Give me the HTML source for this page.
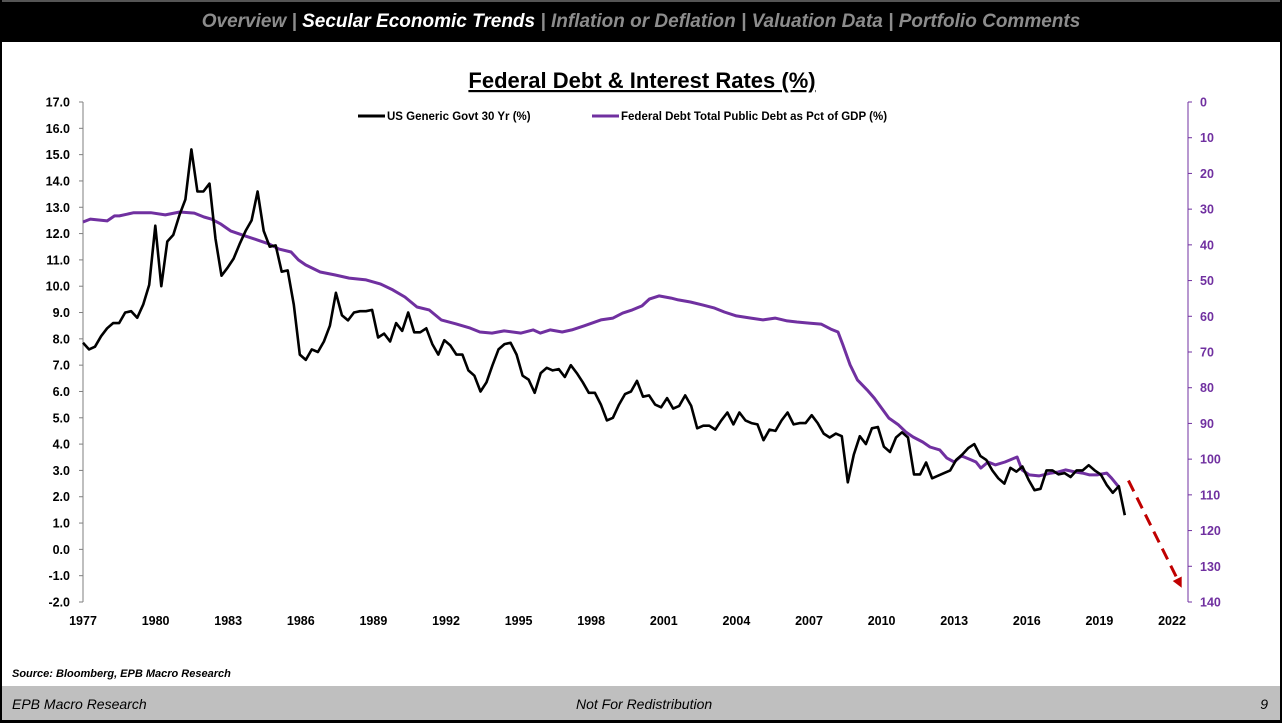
<!DOCTYPE html>
<html><head><meta charset="utf-8">
<style>
body{margin:0;width:1282px;height:723px;overflow:hidden;background:#fff;font-family:"Liberation Sans",sans-serif;}
#hdr{position:absolute;left:0;top:0;width:1282px;height:42px;background:#000;border-top:2px solid #555;box-sizing:border-box;text-align:center;line-height:40px;font-style:italic;font-weight:bold;font-size:19px;color:#8c8c8c;white-space:nowrap}
#hdr .on{color:#fff}
#ftr{position:absolute;left:0;top:686px;width:1282px;height:37px;background:#bfbfbf;border-bottom:3px solid #000;box-sizing:border-box;font-style:italic;font-size:14px;color:#000}
#side{position:absolute;left:0;top:0;width:1282px;height:723px;border-left:2px solid #000;border-right:2px solid #000;box-sizing:border-box;pointer-events:none}
</style></head><body>
<div id="hdr"><span>Overview</span> | <span class="on">Secular Economic Trends</span> | <span>Inflation or Deflation</span> | <span>Valuation Data</span> | <span>Portfolio Comments</span></div>
<svg id="chart" width="1282" height="723" style="position:absolute;left:0;top:0">
<text x="642" y="88" text-anchor="middle" font-size="22" font-weight="bold" text-decoration="underline">Federal Debt &amp; Interest Rates (%)</text>
<g font-size="11.5" font-weight="bold">
<line x1="358" y1="116" x2="385" y2="116" stroke="#000" stroke-width="3"/>
<text x="387" y="120">US Generic Govt 30 Yr (%)</text>
<line x1="592" y1="116" x2="619" y2="116" stroke="#7030a0" stroke-width="3"/>
<text x="621" y="120">Federal Debt Total Public Debt as Pct of GDP (%)</text>
</g>
<g id="axes"></g>
<g id="series"></g>
<text x="12" y="677" font-size="11" font-weight="bold" font-style="italic">Source: Bloomberg, EPB Macro Research</text>
</svg>
<div id="ftr">
<span style="position:absolute;left:12px;top:10px">EPB Macro Research</span>
<span style="position:absolute;left:576px;top:10px">Not For Redistribution</span>
<span style="position:absolute;right:14px;top:10px">9</span>
</div>
<div id="side"></div>
<script>
const yieldStart = 1977.0, yieldEnd = 2020.05;
const yieldValues = [7.85,7.6,7.7,8.1,8.4,8.6,8.6,9.0,9.05,8.8,9.3,10.05,12.3,10.0,11.7,11.95,12.7,13.3,15.2,13.6,13.6,13.9,11.8,10.4,10.7,11.05,11.6,12.1,12.5,13.6,12.1,11.5,11.55,10.55,10.6,9.3,7.4,7.2,7.6,7.5,7.9,8.5,9.75,8.9,8.7,9.0,9.05,9.05,9.1,8.05,8.2,7.9,8.6,8.3,9.0,8.25,8.25,8.4,7.8,7.4,7.95,7.75,7.4,7.4,6.8,6.6,6.0,6.35,7.0,7.6,7.8,7.85,7.4,6.6,6.45,5.95,6.7,6.9,6.8,6.85,6.55,7.0,6.7,6.35,5.95,5.95,5.5,4.9,5.0,5.5,5.9,6.0,6.4,5.8,5.85,5.5,5.4,5.75,5.35,5.45,5.85,5.45,4.6,4.7,4.7,4.55,4.9,5.2,4.75,5.2,4.9,4.8,4.75,4.15,4.55,4.5,4.9,5.2,4.75,4.8,4.8,5.1,4.8,4.4,4.25,4.4,4.3,2.55,3.6,4.3,4.0,4.6,4.65,3.9,3.7,4.25,4.45,4.25,2.85,2.85,3.3,2.7,2.8,2.9,3.0,3.4,3.6,3.85,4.0,3.55,3.4,3.0,2.7,2.5,3.1,2.95,3.15,2.65,2.25,2.3,3.0,3.0,2.85,2.9,2.75,3.0,3.0,3.2,3.0,2.85,2.45,2.15,2.4,1.3];
const debtYears = [1977.0,1977.3,1978.0,1978.3,1978.5,1979.1,1979.8,1980.4,1981.0,1981.6,1982.0,1982.3,1982.7,1983.1,1983.7,1984.2,1984.7,1985.1,1985.6,1985.9,1986.2,1986.8,1987.4,1988.0,1988.7,1989.3,1989.8,1990.3,1990.8,1991.3,1991.8,1992.4,1993.0,1993.4,1993.9,1994.4,1995.1,1995.6,1995.9,1996.3,1996.8,1997.2,1997.7,1998.4,1998.9,1999.3,1999.7,2000.1,2000.4,2000.8,2001.3,2001.6,2002.1,2002.6,2003.1,2003.5,2004.0,2004.6,2005.1,2005.6,2006.1,2006.5,2007.0,2007.5,2007.9,2008.2,2008.4,2008.7,2009.0,2009.4,2009.7,2010.0,2010.3,2010.7,2011.0,2011.3,2011.7,2012.0,2012.4,2012.7,2013.0,2013.3,2013.7,2013.9,2014.1,2014.4,2014.7,2015.1,2015.6,2015.8,2016.1,2016.5,2017.0,2017.3,2017.6,2018.0,2018.3,2018.6,2018.9,2019.3,2019.5,2019.8];
const debtValues = [33.6,32.8,33.3,31.9,31.9,31.0,31.0,31.6,30.8,31.1,32.2,32.8,34.2,36.1,37.5,38.6,39.8,41.2,42.0,44.2,45.6,47.6,48.4,49.3,49.8,51.0,52.6,54.6,57.4,58.2,61.0,62.1,63.3,64.4,64.7,64.1,64.7,63.8,64.7,63.8,64.4,63.8,62.7,61.0,60.5,59.1,58.2,57.1,55.2,54.3,54.9,55.4,56.0,56.8,57.7,58.8,59.9,60.5,61.0,60.5,61.3,61.6,61.9,62.2,63.6,64.4,68.0,73.6,77.8,80.6,82.9,85.7,88.5,90.4,92.4,93.8,95.2,96.6,97.4,99.7,100.8,99.1,100.2,100.8,102.5,100.8,101.6,100.8,99.4,103.0,104.4,104.7,103.9,103.6,103.0,103.6,103.9,104.4,104.4,103.9,105.3,107.8];
const leftTicks = [17,16,15,14,13,12,11,10,9,8,7,6,5,4,3,2,1,0,-1,-2];
const rightTicks = [0,10,20,30,40,50,60,70,80,90,100,110,120,130,140];
const xTicks = [1977,1980,1983,1986,1989,1992,1995,1998,2001,2004,2007,2010,2013,2016,2019,2022];
const arrowFrom = [2020.2, 106], arrowTo = [2022.4, 136]; // year, debt % (right axis)

const NS="http://www.w3.org/2000/svg";
const X0=83, X1=1172, YT=102, YB=602, XR=1188;
const xs=y=>X0+(y-1977)/(2022-1977)*(X1-X0);
const yl=v=>YT+(17-v)/19*(YB-YT);
const yr=v=>YT+v/140*(YB-YT);
function mk(t,a,p){const e=document.createElementNS(NS,t);for(const k in a)e.setAttribute(k,a[k]);p.appendChild(e);return e;}
const ax=document.getElementById('axes'), se=document.getElementById('series');
let e;
e=mk('line',{x1:X0,y1:YT,x2:X0,y2:YB,stroke:'#7f7f7f','stroke-width':1},ax);


e=mk('line',{x1:XR,y1:YT,x2:XR,y2:YB,stroke:'#7030a0','stroke-width':1},ax);


leftTicks.forEach(v=>{
  mk('line',{x1:X0-4,y1:yl(v),x2:X0,y2:yl(v),stroke:'#7f7f7f'},ax);
  const t=mk('text',{x:70,y:yl(v)+4.5,'text-anchor':'end','font-size':12.5,'font-weight':'bold'},ax);
  t.textContent=v.toFixed(1);
  
  
});
rightTicks.forEach(v=>{
  mk('line',{x1:XR,y1:yr(v),x2:XR+4,y2:yr(v),stroke:'#7030a0'},ax);
  const t=mk('text',{x:1200,y:yr(v)+4.5,'font-size':12.5,'font-weight':'bold',fill:'#7030a0'},ax);
  t.textContent=v;
  
  
});
xTicks.forEach(v=>{
  const t=mk('text',{x:xs(v),y:625,'text-anchor':'middle','font-size':12.5,'font-weight':'bold'},ax);
  t.textContent=v;
  
  
});
const n=yieldValues.length;
const yp=yieldValues.map((v,i)=>xs(yieldStart+i*(yieldEnd-yieldStart)/(n-1)).toFixed(1)+','+yl(v).toFixed(1)).join(' ');
const dp=debtValues.map((v,i)=>xs(debtYears[i]).toFixed(1)+','+yr(v).toFixed(1)).join(' ');
e=mk('polyline',{points:dp,fill:'none',stroke:'#7030a0','stroke-width':3,'stroke-linejoin':'round'},se);


e=mk('polyline',{points:yp,fill:'none',stroke:'#000','stroke-width':2.6,'stroke-linejoin':'round'},se);


const ax1=xs(arrowFrom[0]),ay1=yr(arrowFrom[1]),ax2=xs(arrowTo[0]),ay2=yr(arrowTo[1]);
const ang=Math.atan2(ay2-ay1,ax2-ax1);
const bx=ax2-10*Math.cos(ang), by=ay2-10*Math.sin(ang);
e=mk('line',{x1:ax1,y1:ay1,x2:bx,y2:by,stroke:'#c00000','stroke-width':3,'stroke-dasharray':'12,7'},se);


const px=-Math.sin(ang),py=Math.cos(ang);
e=mk('polygon',{points:`${ax2},${ay2} ${bx+5*px},${by+5*py} ${bx-5*px},${by-5*py}`,fill:'#c00000'},se);


</script>
</body></html>
